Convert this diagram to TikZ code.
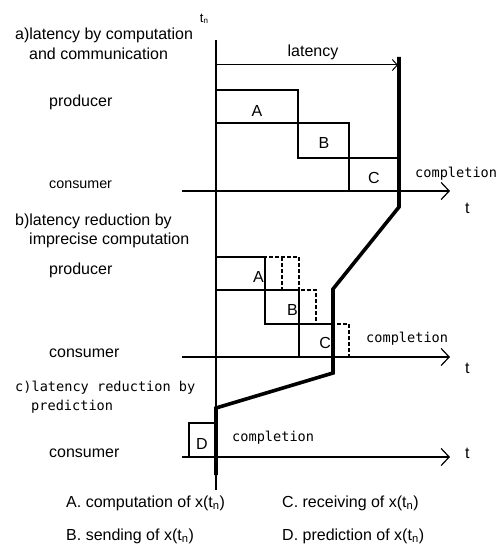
\documentclass[tikz,border=0pt]{standalone}
\usepackage{fontspec}
\setmainfont{Liberation Sans}
\setmonofont{DejaVu Sans Mono}
\usetikzlibrary{arrows.meta}

\begin{document}
\begin{tikzpicture}[
  x=1pt, y=-1pt,
  >={Straight Barb[length=8pt,width=17pt]},
  thinline/.style={line width=1.2pt},
  thickline/.style={line width=3.6pt, line join=miter},
  axisarr/.style={->, line width=1.2pt},
  latarr/.style={-{Straight Barb[length=5pt,width=11pt]}, line width=1pt},
  dashbox/.style={line width=1.2pt, dash pattern=on 4pt off 2pt},
  sanslabel/.style={font=\fontsize{16}{19}\selectfont, inner sep=0pt, anchor=base west},
  boxlabel/.style={font=\fontsize{16}{19}\selectfont, inner sep=0pt, anchor=base},
  monolabel/.style={font=\ttfamily\fontsize{13.6}{16}\selectfont, inner sep=0pt, anchor=base west},
]
\useasboundingbox (0,0) rectangle (499,548);

% time origin
\coordinate (tntop) at (216,40);
\coordinate (tnbot) at (216,490);
\draw[thinline] (tntop) -- (tnbot);
\node[inner sep=0pt, anchor=base, font=\fontsize{13}{15}\selectfont] (tnlab) at (204,23)
  {t\raisebox{-0.5pt}{\fontsize{8}{9}\selectfont n}};

% time axes
\foreach \name/\ypos in {axA/191, axB/357, axC/457}{
  \coordinate (\name s) at (182,\ypos);
  \coordinate (\name e) at (450,\ypos);
  \draw[axisarr] (\name s) -- (\name e);
}
\node[sanslabel] (tA) at (465,213) {t};
\node[sanslabel] (tB) at (465,373) {t};
\node[sanslabel] (tC) at (465,458) {t};

% a) headings
\node[sanslabel] (headA1) at (15,40) {a)latency by computation};
\node[sanslabel] (headA2) at (29,60) {and communication};
\node[sanslabel] (prodA) at (49,107) {producer};
\node[sanslabel, font=\fontsize{14.3}{17}\selectfont] (consA) at (49,188) {consumer};

% a) latency arrow
\coordinate (latS) at (216,65);
\coordinate (latE) at (398,65);
\draw[latarr] (latS) -- (latE);
\node[boxlabel] (latlab) at (313,57) {latency};

% a) blocks
\draw[thinline] (216,90) rectangle (298,123);
\draw[thinline] (298,123) rectangle (349,158);
\draw[thinline] (349,158) rectangle (399,191);
\node[boxlabel] (blkA1) at (257,117) {A};
\node[boxlabel] (blkB1) at (324,149) {B};
\node[boxlabel] (blkC1) at (374,183) {C};
\node[monolabel] (compA) at (415,177) {completion};

% b) headings
\node[sanslabel] (headB1) at (15,225) {b)latency reduction by};
\node[sanslabel] (headB2) at (29,244) {imprecise computation};
\node[sanslabel] (prodB) at (49,274) {producer};
\node[sanslabel] (consB) at (49,357) {consumer};

% b) dashed (skipped) parts
\draw[dashbox] (265,257) rectangle (299,290);
\draw[dashbox] (282,257) -- (282,290);
\draw[dashbox] (299,290) rectangle (316,324);
\draw[dashbox] (333,324) rectangle (349,357);
% b) blocks
\draw[thinline] (216,257) rectangle (265,290);
\draw[thinline] (265,290) rectangle (299,324);
\draw[thinline] (299,324) rectangle (333,357);
\node[boxlabel, anchor=base east] (blkA2) at (264,282) {A};
\node[boxlabel, anchor=base east] (blkB2) at (298,315) {B};
\node[boxlabel, anchor=base east] (blkC2) at (331,348) {C};
\node[monolabel] (compB) at (366,342) {completion};

% c) headings
\node[monolabel] (headC1) at (15,391) {c)latency reduction by};
\node[monolabel] (headC2) at (31,410) {prediction};
\node[sanslabel] (consC) at (49,457) {consumer};

% c) block
\draw[thinline] (189,423) rectangle (216,457);
\node[boxlabel] (blkD) at (202,449) {D};
\node[monolabel] (compC) at (232,441) {completion};

% completion line
\coordinate (doneA) at (399,57);
\coordinate (doneAb) at (399,207);
\coordinate (doneB) at (333,289);
\coordinate (doneBb) at (333,373);
\coordinate (doneC) at (216,408);
\coordinate (doneCb) at (216,475);
\draw[thickline] (doneA) -- (doneAb) -- (doneB) -- (doneBb) -- (doneC) -- (doneCb);

% legend
\node[sanslabel] (legA) at (66,507) {A. computation of x(t\textsubscript{n})};
\node[sanslabel] (legC) at (282,507) {C. receiving of x(t\textsubscript{n})};
\node[sanslabel] (legB) at (66,540) {B. sending of x(t\textsubscript{n})};
\node[sanslabel] (legD) at (282,540) {D. prediction of x(t\textsubscript{n})};

\end{tikzpicture}
\end{document}
